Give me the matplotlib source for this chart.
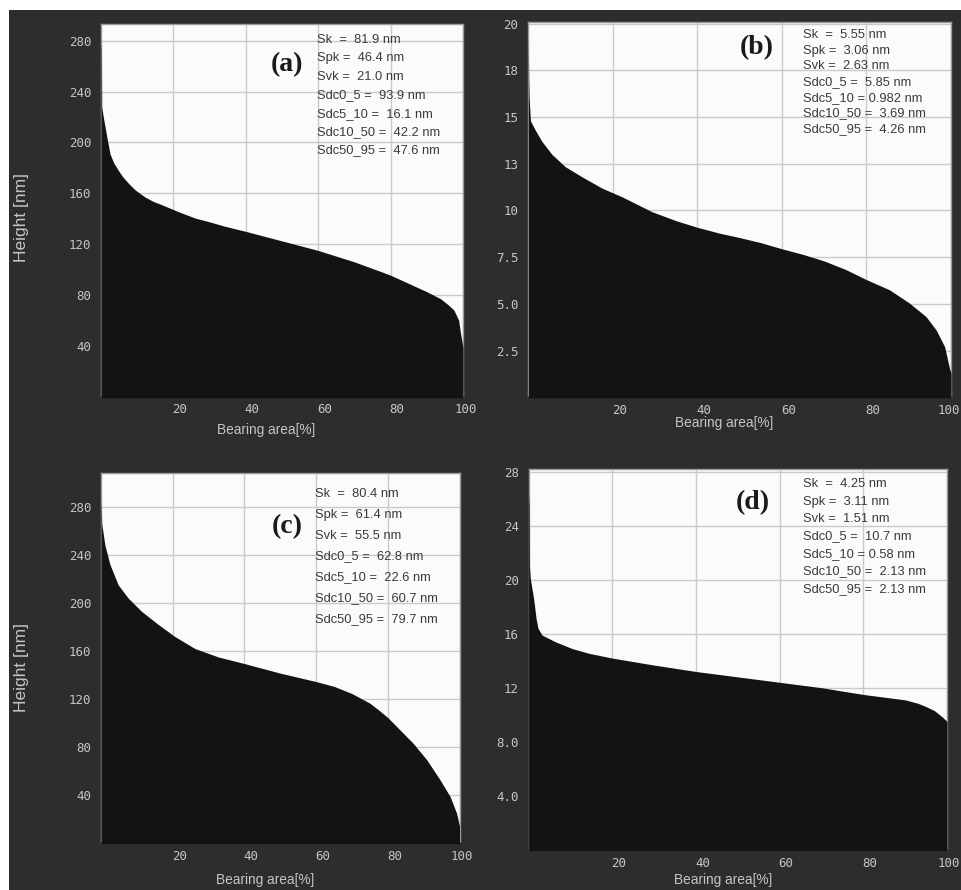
import matplotlib
matplotlib.use("Agg")
import matplotlib.pyplot as plt
from matplotlib.patches import Rectangle
from matplotlib.transforms import ScaledTranslation

# ---------------- data ----------------
a_x = [0, 0.1, 0.2, 0.64, 1.57, 2.49, 3.5, 4.8, 6, 7.55, 9.5, 12.2, 14.5, 16.8, 21.4, 26, 30, 34.3, 40, 50, 60, 70, 77.2, 80, 85, 90, 93.8, 96, 97.5, 98.8, 99.3, 99.8, 100]
a_h = [280, 272, 228, 220, 205, 191, 184, 178, 173, 168, 162.5, 157, 153.5, 151, 145.5, 140.5, 137.5, 134, 130, 122.5, 115, 106, 98.5, 95.5, 89, 82.5, 77, 72, 68, 60, 50, 42, 38]

b_x = [0, 0.1, 0.2, 0.5, 1.65, 3.2, 5.6, 8.7, 12.7, 17.4, 22.1, 29.2, 35, 40, 45, 50, 55, 60, 65, 70, 75, 80, 85.5, 90.2, 94.1, 96.5, 98.5, 99.2, 99.7, 100]
b_h = [19.2, 17.0, 16.0, 14.8, 14.3, 13.7, 13.0, 12.35, 11.8, 11.2, 10.74, 9.94, 9.45, 9.1, 8.8, 8.55, 8.28, 7.95, 7.65, 7.3, 6.85, 6.3, 5.75, 5.04, 4.32, 3.6, 2.71, 2.0, 1.5, 1.3]

c_x = [0, 0.2, 1.1, 2.5, 4.8, 7.6, 11.3, 16, 20.6, 26.2, 32.7, 40, 50, 60, 65, 70, 75, 77.8, 80, 83.4, 87.1, 90.9, 94.6, 97.4, 99.2, 100]
c_h = [285, 266, 248, 232, 215, 204, 193, 182, 172, 162, 155, 149.5, 141.5, 134.5, 130.5, 124.5, 116.5, 110, 104.5, 94.2, 83, 69.2, 52.5, 38.6, 24.7, 14]

d_x = [0, 0.12, 0.2, 0.4, 1.2, 1.8, 2.25, 3.2, 6.4, 10.4, 14.4, 19.9, 29.5, 40, 50, 60, 70, 80, 90, 93, 95, 97, 98, 99, 100]
d_h = [26.3, 25.5, 21.0, 20.1, 18.6, 17.1, 16.4, 15.9, 15.4, 14.9, 14.55, 14.2, 13.7, 13.2, 12.8, 12.4, 12.0, 11.5, 11.1, 10.85, 10.6, 10.3, 10.05, 9.8, 9.5]

x_ticks = [20, 40, 60, 80, 100]
x_tick_labels = ["20", "40", "60", "80", "100"]
ac_y_ticks = [40, 80, 120, 160, 200, 240, 280]
ac_y_labels = ["40", "80", "120", "160", "200", "240", "280"]
b_y_ticks = [2.5, 5.0, 7.5, 10, 12.5, 15, 17.5, 20]
b_y_labels = ["2.5", "5.0", "7.5", "10", "13", "15", "18", "20"]
d_y_ticks = [4, 8, 12, 16, 20, 24, 28]
d_y_labels = ["4.0", "8.0", "12", "16", "20", "24", "28"]

a_stats = ["Sk  =  81.9 nm", "Spk =  46.4 nm", "Svk =  21.0 nm", "Sdc0_5 =  93.9 nm",
           "Sdc5_10 =  16.1 nm", "Sdc10_50 =  42.2 nm", "Sdc50_95 =  47.6 nm"]
b_stats = ["Sk  =  5.55 nm", "Spk =  3.06 nm", "Svk =  2.63 nm", "Sdc0_5 =  5.85 nm",
           "Sdc5_10 = 0.982 nm", "Sdc10_50 =  3.69 nm", "Sdc50_95 =  4.26 nm"]
c_stats = ["Sk  =  80.4 nm", "Spk =  61.4 nm", "Svk =  55.5 nm", "Sdc0_5 =  62.8 nm",
           "Sdc5_10 =  22.6 nm", "Sdc10_50 =  60.7 nm", "Sdc50_95 =  79.7 nm"]
d_stats = ["Sk  =  4.25 nm", "Spk =  3.11 nm", "Svk =  1.51 nm", "Sdc0_5 =  10.7 nm",
           "Sdc5_10 = 0.58 nm", "Sdc10_50 =  2.13 nm", "Sdc50_95 =  2.13 nm"]

# ---------------- layout ----------------
W, H = 961, 890
fig = plt.figure(figsize=(W / 100, H / 100), dpi=100, facecolor="white")
fig.patches.append(Rectangle((9 / W, 0), (W - 9) / W, (H - 10) / H,
                             transform=fig.transFigure, facecolor="#2d2d2d",
                             edgecolor="none", zorder=-10))

def px(x, y):
    return x / W, 1 - y / H

BG_TICK = "#c6c6c6"
FILL = "#131313"

panels = [
    dict(box=(101, 24, 463, 396.5), x=a_x, h=a_h, ylim=293.3, yt=ac_y_ticks, yl=ac_y_labels,
         stats=a_stats, lab="(a)", labpos=(287, 65), sx=317, sy=40, sdy=18.4,
         xlab=(266, 430), ylab=(21.5, 217), xoff=14),
    dict(box=(528.3, 21.7, 951, 397.4), x=b_x, h=b_h, ylim=20.1, yt=b_y_ticks, yl=b_y_labels,
         stats=b_stats, lab="(b)", labpos=(757, 48), sx=803, sy=35, sdy=15.7,
         xlab=(724, 423), ylab=None, xoff=14),
    dict(box=(101, 473.3, 459.5, 843), x=c_x, h=c_h, ylim=308, yt=ac_y_ticks, yl=ac_y_labels,
         stats=c_stats, lab="(c)", labpos=(287, 527), sx=315, sy=494, sdy=20.8,
         xlab=(265, 880), ylab=(21.5, 667), xoff=14),
    dict(box=(528.6, 469, 947, 849.7), x=d_x, h=d_h, ylim=28.2, yt=d_y_ticks, yl=d_y_labels,
         stats=d_stats, lab="(d)", labpos=(753, 503), sx=803, sy=484, sdy=17.5,
         xlab=(723, 880), ylab=None, xoff=14),
]

for p in panels:
    x0, y0, x1, y1 = p["box"]
    ax = fig.add_axes([x0 / W, 1 - y1 / H, (x1 - x0) / W, (y1 - y0) / H])
    ax.set_facecolor("#fbfbfb")
    ax.fill_between(p["x"], 0, p["h"], color=FILL, linewidth=0, zorder=3)
    ax.set_xlim(0, 100)
    ax.set_ylim(0, p["ylim"])
    ax.set_xticks(x_ticks)
    ax.set_xticklabels(x_tick_labels)
    ax.set_yticks(p["yt"])
    ax.set_yticklabels(p["yl"])
    ax.grid(True, color="#cacaca", linewidth=1.0, zorder=1)
    ax.set_axisbelow(True)
    ax.tick_params(length=0, colors=BG_TICK, labelsize=9, pad=5)
    ax.tick_params(axis="y", pad=7)
    for t in ax.get_xticklabels() + ax.get_yticklabels():
        t.set_fontfamily("DejaVu Sans Mono")
        t.set_color(BG_TICK)
    labels = ax.get_xticklabels()
    for i, t in enumerate(labels):
        t.set_horizontalalignment("right")
        off = p["xoff"]
        if i == len(labels) - 1:
            right_px = x1 + off
            if right_px > W - 1:
                off = W - 1 - x1
        t.set_transform(t.get_transform() + ScaledTranslation(off / 100, 0, fig.dpi_scale_trans))
    for s in ax.spines.values():
        s.set_color("#9a9a9a")
        s.set_linewidth(1.0)
    ax.spines["bottom"].set_color(FILL)

    fig.text(*px(*p["labpos"]), p["lab"], fontfamily="Liberation Serif", fontweight="bold",
             fontsize=20, color="#1a1a1a", ha="center", va="center")
    for i, s in enumerate(p["stats"]):
        fig.text(*px(p["sx"], p["sy"] + i * p["sdy"]), s, fontfamily="Liberation Sans",
                 fontsize=9.3, color="#3a3a3a", ha="left", va="center")
    fig.text(*px(*p["xlab"]), "Bearing area[%]", fontfamily="Liberation Sans",
             fontsize=9.8, color=BG_TICK, ha="center", va="center")
    if p["ylab"]:
        fig.text(*px(*p["ylab"]), "Height [nm]", fontfamily="Liberation Sans",
                 fontsize=12.5, color=BG_TICK, ha="center", va="center", rotation=90)

fig.savefig("out.png", dpi=100, facecolor=fig.get_facecolor())
